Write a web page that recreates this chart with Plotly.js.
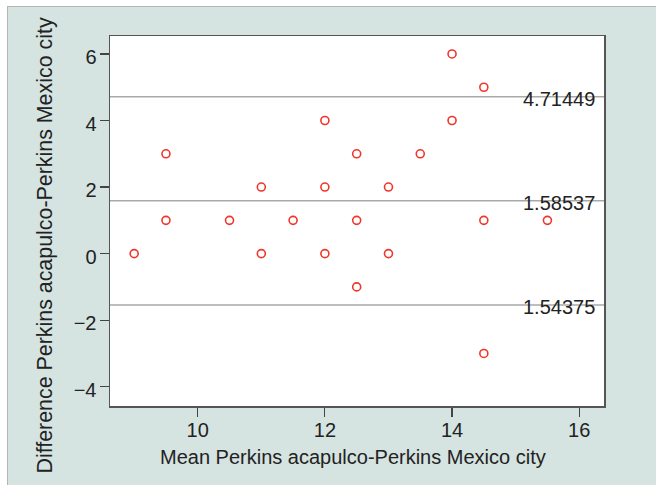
<!DOCTYPE html>
<html>
<head>
<meta charset="utf-8">
<script src="https://cdn.plot.ly/plotly-3.0.1.min.js"></script>
<style>
  html, body { margin: 0; padding: 0; background: #ffffff; }
  #bg { position: absolute; left: 7px; top: 6px; width: 649px; height: 479px;
        background: #d5e4e1; border-left: 1px solid #b5b5b5; border-top: 1px solid #b5b5b5; box-sizing: border-box; }
  #chart { position: absolute; left: 0; top: 0; width: 656px; height: 485px; }
</style>
</head>
<body>
<div id="bg"></div>
<div id="chart"></div>
<script>
// Data
const meanValues = [9, 9.5, 9.5, 10.5, 11, 11, 11.5, 12, 12, 12, 12.5, 12.5, 12.5, 13, 13, 13.5, 14, 14, 14.5, 14.5, 14.5, 15.5];
const diffValues = [0, 3, 1, 1, 2, 0, 1, 4, 2, 0, 3, 1, -1, 2, 0, 3, 6, 4, 5, 1, -3, 1];
const limitValues = [4.71449, 1.58537, -1.54375];
const limitLabels = ["4.71449", "1.58537", "1.54375"];
const xTickVals = [10, 12, 14, 16];
const yTickVals = [-4, -2, 0, 2, 4, 6];
const xTitle = "Mean Perkins acapulco-Perkins Mexico city";
const yTitle = "Difference Perkins acapulco-Perkins Mexico city";

const FONT = "'Liberation Sans', Arial, Helvetica, sans-serif";

const trace = {
  x: meanValues,
  y: diffValues,
  type: 'scatter',
  mode: 'markers',
  marker: { symbol: 'circle-open', size: 8, color: '#f0352a', line: { width: 1.6, color: '#f0352a' } },
  hoverinfo: 'x+y',
  showlegend: false
};

const shapes = limitValues.map(v => ({
  type: 'line', xref: 'paper', yref: 'y', x0: 0, x1: 1, y0: v, y1: v,
  line: { color: '#a9a9a9', width: 1.5 }, layer: 'below'
}));

const annotations = limitValues.map((v, i) => ({
  xref: 'paper', yref: 'y', x: 0.986, y: v, text: limitLabels[i],
  xanchor: 'right', yanchor: 'middle', yshift: -2, showarrow: false,
  font: { family: FONT, size: 20, color: '#222222' }
}));

annotations.push({
  xref: 'paper', yref: 'paper', x: 0.492, y: -0.138, text: xTitle,
  xanchor: 'center', yanchor: 'middle', showarrow: false,
  font: { family: FONT, size: 20, color: '#222222' }
});
annotations.push({
  xref: 'paper', yref: 'paper', x: -0.1306, y: 0.435, text: yTitle, textangle: -90,
  xanchor: 'center', yanchor: 'middle', showarrow: false,
  font: { family: FONT, size: 21.4, color: '#222222' }
});

const layout = {
  width: 656, height: 485,
  margin: { l: 110, r: 52, t: 36, b: 79 },
  paper_bgcolor: 'rgba(0,0,0,0)',
  plot_bgcolor: '#ffffff',
  font: { family: FONT, size: 20, color: '#222222' },
  xaxis: {
    range: [8.62, 16.39], tickvals: xTickVals, ticks: 'outside', ticklen: 9, tickwidth: 1.2,
    tickcolor: '#444', showline: true, mirror: true, linecolor: '#555', linewidth: 1.5,
    showgrid: false, zeroline: false, ticklabelstandoff: -4,
    tickfont: { family: FONT, size: 20, color: '#222' }
  },
  yaxis: {
    range: [-4.58, 6.54], tickvals: yTickVals, ticks: 'outside', ticklen: 9, tickwidth: 1.2,
    tickcolor: '#444', showline: true, mirror: true, linecolor: '#555', linewidth: 1.5,
    showgrid: false, zeroline: false, ticklabelstandoff: -1, ticklabelshift: 3,
    tickfont: { family: FONT, size: 20, color: '#222' }
  },
  shapes: shapes,
  annotations: annotations,
  showlegend: false
};

Plotly.newPlot('chart', [trace], layout, { displayModeBar: false, staticPlot: true });
</script>
</body>
</html>
